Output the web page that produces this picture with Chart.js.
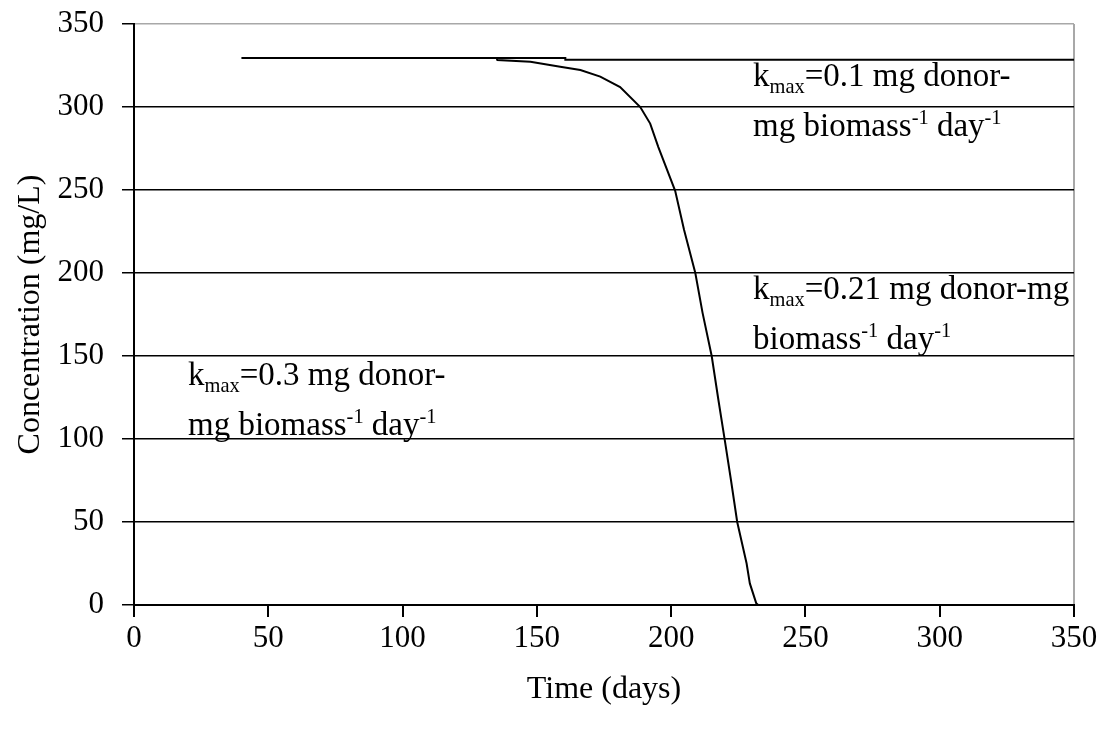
<!DOCTYPE html>
<html>
<head>
<meta charset="utf-8">
<script src="https://cdn.jsdelivr.net/npm/chart.js@4.4.0/dist/chart.umd.min.js"></script>
<style>
  html, body { margin: 0; padding: 0; background: #fff; }
  canvas { display: block; }
</style>
</head>
<body>
<canvas id="chart" width="1105" height="729"></canvas>
<script>
// 數據：兩條濃度曲線 (時間, 濃度)
const xTicks = [0, 50, 100, 150, 200, 250, 300, 350];
const yTicks = [0, 50, 100, 150, 200, 250, 300, 350];

const slowTime = [40, 160.6, 160.6, 350];
const slowConc = [329.5, 329.5, 328.5, 328.5];

const fastTime = [92, 135, 135.3, 147.6, 158.7, 166.2, 173.6, 181, 188.5, 192.2, 195.2, 201.5,
  204.8, 209, 211.7, 215.1, 217.6, 220, 222.3, 224.6, 228.1, 229.3, 231.7, 232.4];
const fastConc = [329.5, 329.5, 328.3, 327.3, 324.3, 322.3, 318.3, 312, 300, 290, 276, 249.5,
  226, 200, 176, 150, 123.5, 99, 75, 50, 25, 13, 1, 0];

// 註解文字 (k_max 標籤)
const notes = [
  { x: 230.5, y: 312.7, lines: [
    [{ t: 'k' }, { t: 'max', sub: true }, { t: '=0.1 mg donor-' }],
    [{ t: 'mg biomass' }, { t: '-1', sup: true }, { t: ' day' }, { t: '-1', sup: true }]
  ] },
  { x: 230.5, y: 184.3, lines: [
    [{ t: 'k' }, { t: 'max', sub: true }, { t: '=0.21 mg donor-mg' }],
    [{ t: 'biomass' }, { t: '-1', sup: true }, { t: ' day' }, { t: '-1', sup: true }]
  ] },
  { x: 20.1, y: 132.5, lines: [
    [{ t: 'k' }, { t: 'max', sub: true }, { t: '=0.3 mg donor-' }],
    [{ t: 'mg biomass' }, { t: '-1', sup: true }, { t: ' day' }, { t: '-1', sup: true }]
  ] }
];

const FONT = "'Liberation Serif', 'Times New Roman', serif";
const NOTE_SIZE = 33;

const toPoints = (xs, ys) => xs.map((x, i) => ({ x, y: ys[i] }));

const noteLabelsPlugin = {
  id: 'noteLabels',
  afterDatasetsDraw(chart) {
    const { ctx, scales: { x, y } } = chart;
    ctx.save();
    ctx.fillStyle = '#000';
    ctx.textBaseline = 'alphabetic';
    ctx.textAlign = 'left';
    notes.forEach(n => {
      const px = x.getPixelForValue(n.x);
      let py = y.getPixelForValue(n.y);
      n.lines.forEach(line => {
        let cx = px;
        line.forEach(seg => {
          const small = seg.sub || seg.sup;
          const fs = small ? NOTE_SIZE * 0.62 : NOTE_SIZE;
          const dy = seg.sub ? NOTE_SIZE * 0.2 : seg.sup ? -NOTE_SIZE * 0.36 : 0;
          ctx.font = fs + 'px ' + FONT;
          ctx.fillText(seg.t, cx, py + dy);
          cx += ctx.measureText(seg.t).width;
        });
        py += 50;
      });
    });
    ctx.restore();
  }
};

const tickFont = { family: FONT, size: 31 };
const titleFont = { family: FONT, size: 32 };

new Chart(document.getElementById('chart'), {
  type: 'scatter',
  data: {
    datasets: [
      {
        data: toPoints(slowTime, slowConc),
        showLine: true,
        borderColor: '#000',
        borderWidth: 2,
        pointRadius: 0
      },
      {
        data: toPoints(fastTime, fastConc),
        showLine: true,
        borderColor: '#000',
        borderWidth: 2,
        pointRadius: 0
      }
    ]
  },
  options: {
    responsive: false,
    animation: false,
    devicePixelRatio: 1,
    layout: { padding: { top: 24, right: 31, left: 0, bottom: 0 } },
    plugins: { legend: { display: false }, tooltip: { enabled: false } },
    scales: {
      x: {
        type: 'linear',
        min: 0,
        max: 350,
        afterBuildTicks: s => { s.ticks = xTicks.map(v => ({ value: v })); },
        afterFit: s => { s.height = 124; s.paddingLeft = 0; s.paddingRight = 0; },
        ticks: { color: '#000', font: tickFont, padding: 3, maxRotation: 0 },
        grid: {
          color: c => c.tick && c.tick.value === 350 ? '#a8a8a8' : 'rgba(0,0,0,0)',
          tickColor: '#000',
          tickLength: 12,
          lineWidth: 2
        },
        border: { color: '#000', width: 2 },
        title: { display: true, text: 'Time (days)', color: '#000', font: titleFont, padding: { top: 0, bottom: 20 } }
      },
      y: {
        min: 0,
        max: 350,
        afterBuildTicks: s => { s.ticks = yTicks.map(v => ({ value: v })); },
        afterFit: s => { s.width = 134; s.paddingTop = 0; s.paddingBottom = 0; },
        ticks: { color: '#000', font: tickFont, padding: 18 },
        grid: {
          color: c => c.tick && c.tick.value === 350 ? '#a8a8a8' : '#000',
          tickColor: '#000',
          tickLength: 12,
          lineWidth: 1.5
        },
        border: { color: '#000', width: 2 },
        title: { display: true, text: 'Concentration (mg/L)', color: '#000', font: titleFont, padding: { top: 11, bottom: 0 } }
      }
    }
  },
  plugins: [noteLabelsPlugin]
});
</script>
</body>
</html>
